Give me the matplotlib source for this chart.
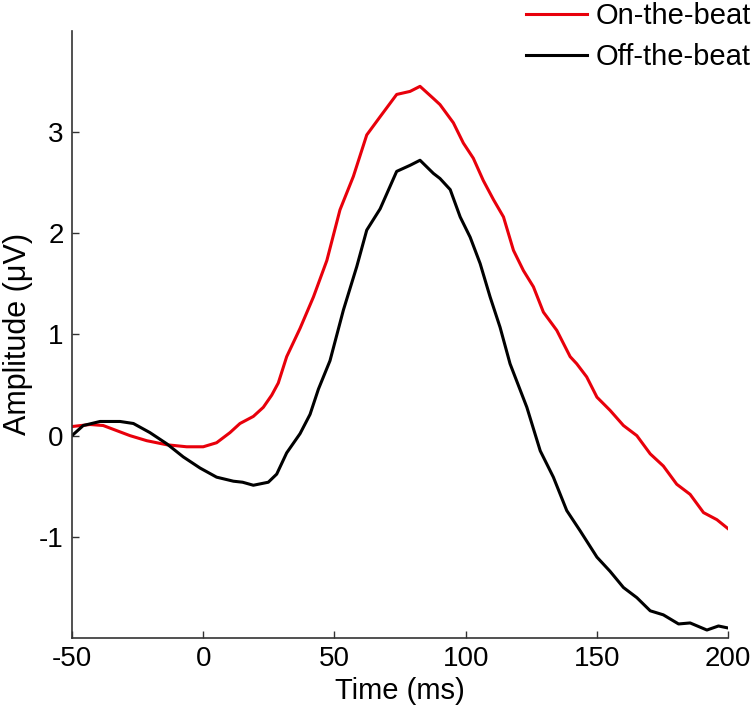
import numpy as np
import matplotlib
matplotlib.use("Agg")
import matplotlib.pyplot as plt

plt.rcParams['font.family'] = ['Liberation Sans', 'DejaVu Sans']
plt.rcParams['axes.unicode_minus'] = False

# ERP waveforms (time in ms, amplitude in uV)
t_on = [-50, -43.1, -38.1, -33, -27.9, -21.5, -13.9, -6.3, 0, 5.1, 10.2, 14, 19.1, 22.9,
        26.1, 28.6, 31.8, 36.9, 42, 47.1, 52.1, 57.2, 62.3, 67.4, 73.7, 78.8, 82.6, 87.7,
        90.2, 95.3, 99.1, 102.9, 106.7, 110.6, 114.4, 118.2, 122, 125.8, 129.6, 134.7,
        139.8, 142.3, 146.1, 150, 155, 160.1, 165.2, 170.3, 175.3, 180.4, 185.5, 190.6,
        195.7, 200]
amp_on = [0.09, 0.11, 0.10, 0.05, 0.0, -0.05, -0.09, -0.11, -0.11, -0.07, 0.03, 0.12, 0.19,
          0.28, 0.40, 0.52, 0.78, 1.06, 1.37, 1.73, 2.23, 2.56, 2.97, 3.15, 3.37, 3.40, 3.45,
          3.33, 3.27, 3.09, 2.89, 2.74, 2.52, 2.33, 2.16, 1.83, 1.63, 1.47, 1.22, 1.04, 0.78,
          0.71, 0.58, 0.38, 0.25, 0.10, 0.0, -0.18, -0.30, -0.48, -0.58, -0.76, -0.83, -0.92]

t_off = [-50, -45.7, -39.3, -31.7, -26.6, -20.3, -13.9, -7.6, -1.2, 5.1, 11.5, 15, 19.1,
         24.8, 28, 31.8, 36.9, 40.7, 43.9, 48.3, 53.4, 58.5, 62.3, 67.4, 73.7, 78.8, 82.6,
         87.7, 90.2, 94.1, 97.9, 101.7, 105.5, 109.3, 113.1, 116.9, 123.3, 128.4, 133.4,
         138.5, 143.6, 150, 155, 160.1, 165.2, 170.3, 175.3, 181.1, 185.5, 191.9, 196.3, 200]
amp_off = [0.0, 0.10, 0.14, 0.14, 0.12, 0.03, -0.08, -0.21, -0.32, -0.41, -0.45, -0.46,
           -0.49, -0.46, -0.38, -0.17, 0.02, 0.21, 0.46, 0.74, 1.24, 1.67, 2.03, 2.24, 2.61,
           2.67, 2.72, 2.59, 2.54, 2.43, 2.16, 1.96, 1.70, 1.37, 1.07, 0.71, 0.28, -0.15,
           -0.41, -0.74, -0.94, -1.20, -1.34, -1.50, -1.60, -1.73, -1.77, -1.86, -1.85,
           -1.92, -1.88, -1.90]

x_ticks = [-50, 0, 50, 100, 150, 200]
y_ticks = [-1, 0, 1, 2, 3]

fig = plt.figure(figsize=(7.56, 7.13), dpi=100)
ax = fig.add_axes([0.0952, 0.105, 0.868, 0.852])

ax.plot(t_on, amp_on, color='#e8000b', lw=2.2, label='On-the-beat', solid_joinstyle='round')
ax.plot(t_off, amp_off, color='black', lw=2.2, label='Off-the-beat', solid_joinstyle='round')

ax.set_xlim(-50, 200)
ax.set_ylim(-2, 4)
ax.set_xticks(x_ticks)
ax.set_yticks(y_ticks)
ax.tick_params(direction='in', length=5, width=1, labelsize=20, color='#333333', pad=6)
for s in ['top', 'right']:
    ax.spines[s].set_visible(False)
for s in ['left', 'bottom']:
    ax.spines[s].set_color('#333333')
    ax.spines[s].set_linewidth(1.2)

ax.set_xlabel('Time (ms)', fontsize=21, labelpad=3)
ax.set_ylabel('Amplitude (μV)', fontsize=22, labelpad=4)

fig.legend(loc='upper right', bbox_to_anchor=(0.993, 0.997), frameon=False,
           fontsize=21, handlelength=2.1, handletextpad=0.28, labelspacing=0.45,
           borderpad=0, borderaxespad=0)

fig.savefig('out.png', dpi=100)
